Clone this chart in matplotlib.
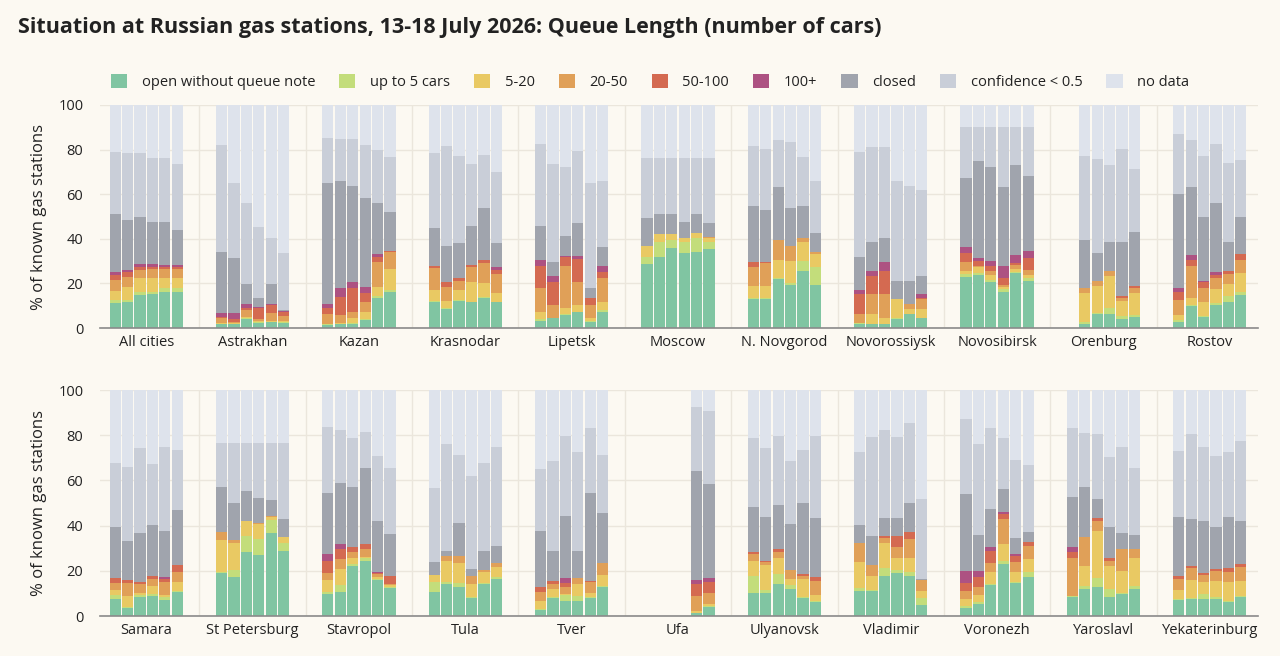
import numpy as np
import matplotlib
matplotlib.use("Agg")
import matplotlib.pyplot as plt
from matplotlib.patches import Patch

nan = np.nan

# cities, in panel order (first 11 = top row, last 11 = bottom row)
cities = ["All cities", "Astrakhan", "Kazan", "Krasnodar", "Lipetsk", "Moscow",
          "N. Novgorod", "Novorossiysk", "Novosibirsk", "Orenburg", "Rostov",
          "Samara", "St Petersburg", "Stavropol", "Tula", "Tver", "Ufa",
          "Ulyanovsk", "Vladimir", "Voronezh", "Yaroslavl", "Yekaterinburg"]
days = ["13 Jul", "14 Jul", "15 Jul", "16 Jul", "17 Jul", "18 Jul"]

categories = ["open without queue note", "up to 5 cars", "5-20", "20-50",
              "50-100", "100+", "closed", "confidence < 0.5", "no data"]

# % of known gas stations, one row per city, one value per day
open_no_queue = [
    [11.1, 11.5, 14.8, 15.1, 16.3, 16.3],
    [1.6, 1.6, 4.0, 2.4, 2.5, 2.4],
    [1.3, 1.6, 1.9, 3.6, 13.3, 16.3],
    [11.8, 8.4, 12.1, 11.5, 13.6, 11.5],
    [3.1, 4.3, 5.8, 7.0, 2.8, 7.0],
    [28.7, 31.7, 35.7, 33.5, 34.2, 35.4],
    [13.0, 13.0, 21.8, 19.3, 25.7, 19.3],
    [1.8, 1.6, 1.6, 4.0, 6.1, 4.3],
    [23.0, 23.8, 20.5, 16.3, 24.5, 21.1],
    [nan, 1.8, 6.3, 6.3, 4.0, 5.1],
    [2.8, 10.0, 5.1, 10.3, 11.8, 14.8],
    [7.5, 3.4, 8.3, 9.0, 7.1, 10.8],
    [18.9, 17.1, 28.5, 27.0, 36.9, 28.8],
    [9.7, 10.8, 22.3, 24.3, 15.9, 12.2],
    [10.5, 14.0, 12.7, 8.1, 14.0, 16.2],
    [2.7, 7.8, 6.8, 6.8, 7.8, 13.0],
    [nan, nan, nan, nan, 1.2, 4.1],
    [10.0, 10.0, 14.2, 11.8, 7.8, 6.3],
    [11.2, 11.2, 17.7, 19.2, 17.7, 4.9],
    [3.4, 5.2, 13.7, 23.0, 14.7, 17.4],
    [8.3, 11.8, 12.7, 8.6, 9.6, 11.8],
    [7.1, 7.4, 7.7, 7.4, 6.3, 8.6],
]
up_to_5 = [
    [1.5, 1.1, 1.5, 1.2, 1.5, 1.5],
    [0.3, 0.3, 0.6, 0.3, 0.3, 0.3],
    [0.3, 0.3, 0.3, 0.4, 1.0, 0.7],
    [0.3, 0.4, 0.3, 0.3, 0.4, 0.3],
    [0.9, 0.0, 0.3, 0.3, 0.3, 1.1],
    [3.3, 7.0, 3.8, 4.9, 6.3, 3.3],
    [0.6, 0.6, 0.5, 0.7, 4.5, 8.2],
    [0.3, 0.3, 0.3, 0.6, 0.4, 0.3],
    [1.1, 0.7, 1.0, 1.2, 0.8, 1.2],
    [nan, 1.0, 0.3, 2.5, 1.5, 0.7],
    [0.8, 0.3, 0.4, 0.8, 2.7, 1.2],
    [1.8, 0.7, 1.0, 0.6, 1.5, 0.4],
    [0.7, 3.3, 6.9, 6.9, 5.6, 3.6],
    [0.8, 2.9, 0.6, 1.2, 0.3, 0.5],
    [4.7, 1.2, 1.8, 0.5, 0.5, 1.2],
    [0.2, 0.8, 2.5, 2.0, 0.5, 0.3],
    [nan, nan, nan, nan, 0.3, 0.3],
    [7.7, 1.5, 4.4, 1.9, 0.8, 0.5],
    [1.0, 0.3, 3.4, 1.2, 1.9, 2.9],
    [1.2, 1.1, 0.5, 1.5, 0.5, 2.2],
    [0.7, 1.6, 4.0, 3.2, 0.4, 1.5],
    [0.3, 0.4, 1.9, 0.9, 0.5, 0.2],
]
cars_5_20 = [
    [4.0, 5.9, 6.0, 6.0, 4.5, 4.5],
    [0.3, 0.3, 0.5, 0.4, 0.3, 0.4],
    [0.3, 0.3, 2.4, 3.0, 4.2, 9.5],
    [4.9, 3.3, 4.6, 8.7, 6.0, 3.7],
    [3.3, 0.3, 2.7, 3.0, 1.2, 3.7],
    [4.9, 3.3, 2.5, 1.8, 2.0, 1.8],
    [5.4, 5.4, 8.2, 10.0, 8.2, 5.5],
    [0.3, 4.4, 2.7, 8.3, 2.0, 3.8],
    [1.5, 3.0, 2.3, 1.0, 1.2, 1.5],
    [nan, 12.7, 12.4, 14.7, 6.6, 9.7],
    [2.2, 3.0, 6.3, 6.2, 5.1, 8.5],
    [2.2, 4.7, 0.7, 3.7, 0.7, 4.0],
    [14.0, 12.0, 6.8, 6.8, 1.2, 2.7],
    [5.4, 6.9, 2.6, 0.5, 1.2, 1.0],
    [2.9, 9.1, 8.8, 5.4, 5.1, 4.4],
    [3.7, 3.2, 0.4, 5.4, 2.0, 4.8],
    [nan, nan, nan, nan, 0.9, 0.8],
    [6.6, 11.1, 6.9, 2.7, 7.6, 2.5],
    [11.8, 6.2, 11.3, 5.4, 6.2, 3.4],
    [2.9, 3.0, 5.4, 7.4, 4.4, 5.5],
    [0.0, 8.7, 21.1, 10.5, 9.9, 12.2],
    [4.1, 8.1, 5.6, 7.2, 8.4, 6.7],
]
cars_20_50 = [
    [4.9, 4.5, 3.7, 4.2, 4.2, 4.2],
    [2.1, 0.6, 3.0, 0.9, 3.5, 2.4],
    [4.2, 3.6, 2.4, 4.5, 11.2, 7.4],
    [9.8, 6.4, 4.1, 7.0, 9.0, 8.6],
    [10.5, 5.7, 19.2, 10.2, 6.0, 10.5],
    [0.0, 0.0, 0.0, 0.0, 0.0, 0.5],
    [8.5, 10.0, 9.0, 6.9, 1.8, 1.2],
    [3.9, 8.8, 10.5, 0.0, 2.1, 4.6],
    [4.1, 0.3, 1.8, 0.8, 1.8, 2.2],
    [nan, 2.6, 2.1, 2.1, 1.2, 2.3],
    [6.8, 14.7, 6.3, 5.3, 4.5, 6.0],
    [3.2, 5.9, 4.2, 3.1, 5.9, 4.4],
    [3.7, 1.2, 0.0, 0.6, 0.5, 0.0],
    [3.0, 4.6, 3.0, 3.6, 1.0, 0.5],
    [0.0, 2.2, 3.2, 3.7, 0.8, 1.5],
    [3.9, 2.4, 3.3, 2.5, 4.9, 5.5],
    [nan, nan, nan, nan, 6.4, 5.1],
    [3.1, 1.4, 3.0, 4.0, 1.5, 6.2],
    [8.4, 4.9, 2.0, 4.9, 8.3, 4.7],
    [3.7, 3.7, 4.0, 10.9, 4.4, 6.0],
    [16.5, 12.7, 4.4, 2.0, 9.6, 4.1],
    [4.9, 5.2, 2.9, 4.6, 4.4, 6.3],
]
cars_50_100 = [
    [2.1, 2.3, 1.5, 1.0, 1.0, 1.0],
    [0.8, 1.2, 1.0, 4.8, 3.7, 1.5],
    [2.7, 8.2, 10.8, 4.0, 2.3, 0.8],
    [1.0, 2.0, 1.2, 0.8, 1.5, 1.9],
    [10.2, 10.5, 4.0, 10.4, 3.3, 3.0],
    [0.0, 0.0, 0.0, 0.0, 0.0, 0.0],
    [2.2, 0.4, 0.0, 0.0, 0.0, 0.0],
    [8.8, 8.2, 10.6, 0.0, 0.0, 0.6],
    [4.1, 2.2, 2.2, 3.0, 1.0, 5.5],
    [nan, 0.0, 0.0, 0.0, 1.0, 1.2],
    [3.7, 2.5, 2.7, 1.2, 1.6, 2.5],
    [2.0, 1.2, 1.0, 1.3, 1.0, 3.0],
    [0.0, 0.0, 0.0, 0.0, 0.0, 0.0],
    [5.6, 4.3, 1.9, 2.1, 0.8, 3.5],
    [0.0, 0.0, 0.0, 0.0, 0.0, 0.0],
    [2.5, 1.4, 1.5, 0.0, 0.4, 0.0],
    [nan, nan, nan, nan, 5.4, 4.9],
    [1.1, 0.5, 1.0, 0.0, 0.7, 1.9],
    [0.0, 0.0, 1.1, 4.7, 2.9, 0.0],
    [3.3, 4.4, 5.2, 2.3, 2.5, 1.5],
    [3.0, 0.0, 1.3, 1.2, 0.0, 0.0],
    [1.3, 1.0, 1.1, 0.5, 1.5, 1.1],
]
cars_100_plus = [
    [1.5, 0.7, 1.0, 1.0, 0.7, 0.7],
    [1.5, 2.6, 1.5, 0.5, 0.3, 0.6],
    [1.8, 4.1, 2.7, 3.0, 1.0, 0.0],
    [0.0, 0.0, 0.0, 0.0, 0.0, 1.2],
    [2.5, 2.7, 0.3, 1.5, 0.0, 2.7],
    [0.0, 0.0, 0.0, 0.0, 0.0, 0.0],
    [0.0, 0.0, 0.0, 0.0, 0.0, 0.0],
    [1.9, 2.3, 4.0, 0.0, 0.0, 1.5],
    [2.7, 1.2, 2.4, 5.7, 3.4, 3.2],
    [nan, 0.0, 0.0, 0.0, 0.0, 0.0],
    [1.8, 2.2, 0.3, 1.5, 0.0, 0.0],
    [0.0, 0.0, 0.0, 0.0, 1.2, 0.0],
    [0.0, 0.0, 0.0, 0.0, 0.0, 0.0],
    [2.9, 2.2, 0.0, 0.0, 0.4, 0.0],
    [0.0, 0.0, 0.0, 0.0, 0.0, 0.0],
    [0.0, 0.0, 2.2, 0.0, 0.0, 0.0],
    [nan, nan, nan, nan, 1.7, 1.8],
    [0.0, 0.0, 0.0, 0.0, 0.0, 0.0],
    [0.0, 0.0, 0.0, 0.0, 0.0, 0.0],
    [5.6, 2.5, 1.9, 1.1, 0.9, 0.0],
    [2.2, 0.0, 0.0, 0.0, 0.0, 0.0],
    [0.0, 0.0, 0.0, 0.0, 0.0, 0.0],
]
closed = [
    [25.9, 22.4, 21.4, 18.9, 19.2, 15.7],
    [27.3, 24.6, 9.0, 4.0, 9.0, 0.5],
    [54.3, 47.8, 43.3, 39.6, 23.2, 17.2],
    [16.9, 16.4, 15.7, 17.4, 23.2, 10.8],
    [15.4, 6.2, 9.0, 14.8, 4.2, 8.5],
    [12.6, 9.0, 9.3, 7.2, 8.5, 5.9],
    [25.2, 23.5, 23.7, 16.8, 14.7, 8.6],
    [14.7, 12.8, 10.8, 8.2, 10.5, 8.2],
    [30.6, 43.7, 42.1, 35.1, 40.4, 33.5],
    [nan, 21.4, 12.4, 13.1, 24.4, 24.2],
    [41.8, 30.7, 28.8, 30.6, 12.7, 16.9],
    [22.8, 17.3, 21.7, 22.6, 20.4, 24.3],
    [19.6, 16.3, 13.1, 10.8, 7.1, 7.7],
    [27.2, 27.3, 26.5, 33.9, 22.6, 18.6],
    [5.9, 2.4, 14.8, 2.9, 8.5, 7.8],
    [24.6, 13.2, 27.5, 12.1, 38.7, 21.8],
    [nan, nan, nan, nan, 48.4, 41.4],
    [19.6, 19.5, 19.6, 20.3, 31.5, 25.8],
    [7.9, 12.9, 8.0, 8.1, 12.9, 0.3],
    [33.7, 15.9, 16.5, 9.8, 7.0, 4.7],
    [21.8, 22.1, 8.1, 13.7, 7.4, 6.2],
    [26.3, 20.8, 23.0, 18.9, 22.9, 19.3],
]
low_confidence = [
    [28.0, 30.2, 28.7, 28.7, 28.7, 29.5],
    [48.1, 34.0, 36.3, 32.1, 20.6, 25.7],
    [20.1, 18.7, 20.8, 23.9, 23.6, 24.9],
    [33.6, 44.9, 39.3, 27.8, 23.9, 32.1],
    [36.5, 43.8, 31.0, 32.2, 47.1, 29.4],
    [26.9, 25.4, 25.1, 29.0, 25.4, 29.5],
    [26.9, 27.4, 21.0, 29.6, 21.6, 23.1],
    [47.1, 42.6, 40.5, 44.8, 42.7, 38.6],
    [23.2, 15.4, 18.0, 27.2, 17.2, 22.1],
    [nan, 37.8, 42.3, 34.4, 41.6, 28.1],
    [26.9, 20.9, 27.2, 26.5, 35.4, 25.4],
    [28.3, 32.9, 37.3, 26.8, 37.1, 26.6],
    [19.5, 26.5, 21.1, 24.3, 25.1, 33.6],
    [29.2, 23.3, 21.7, 16.0, 28.6, 29.3],
    [32.5, 47.1, 29.9, 41.3, 38.9, 43.8],
    [27.3, 39.9, 35.4, 43.9, 29.0, 25.8],
    [nan, nan, nan, nan, 28.0, 32.3],
    [30.8, 30.5, 30.7, 27.9, 23.6, 36.6],
    [32.4, 43.6, 38.8, 35.9, 35.6, 35.4],
    [33.2, 40.3, 36.1, 22.6, 34.6, 29.5],
    [30.8, 24.2, 28.8, 31.0, 38.0, 29.5],
    [29.0, 37.5, 32.4, 31.3, 28.7, 35.4],
]
no_data = [
    [21.0, 21.4, 21.4, 23.9, 23.9, 26.6],
    [18.0, 34.8, 44.1, 54.6, 59.8, 66.2],
    [15.0, 15.4, 15.4, 18.0, 20.2, 23.2],
    [21.7, 18.2, 22.7, 26.5, 22.4, 29.9],
    [17.6, 26.5, 27.7, 20.6, 35.1, 34.1],
    [23.6, 23.6, 23.6, 23.6, 23.6, 23.6],
    [18.2, 19.7, 15.8, 16.7, 23.5, 34.1],
    [21.2, 19.0, 19.0, 34.1, 36.2, 38.1],
    [9.7, 9.7, 9.7, 9.7, 9.7, 9.7],
    [nan, 22.7, 24.2, 26.9, 19.7, 28.7],
    [13.2, 15.7, 22.9, 17.6, 26.2, 24.7],
    [32.2, 33.9, 25.8, 32.9, 25.1, 26.5],
    [23.6, 23.6, 23.6, 23.6, 23.6, 23.6],
    [16.2, 17.7, 21.4, 18.4, 29.2, 34.4],
    [43.5, 24.0, 28.8, 38.1, 32.2, 25.1],
    [35.1, 31.3, 20.4, 27.3, 16.7, 28.8],
    [nan, nan, nan, nan, 7.7, 9.3],
    [21.1, 25.5, 20.2, 31.4, 26.5, 20.2],
    [27.3, 20.9, 17.7, 20.6, 14.5, 48.4],
    [13.0, 23.9, 16.7, 21.4, 31.0, 33.2],
    [16.7, 18.9, 19.6, 29.8, 25.1, 34.7],
    [27.0, 19.6, 25.4, 29.2, 27.3, 22.4],
]

series = [open_no_queue, up_to_5, cars_5_20, cars_20_50, cars_50_100,
          cars_100_plus, closed, low_confidence, no_data]
colors = ["#80c5a2", "#c3dd7b", "#e9c963", "#e0a058", "#d46a51", "#ad5282",
          "#a0a4ad", "#c9ced8", "#dee3ec"]

BG = "#fcf9f2"
GRID = "#ebe6dc"
TEXT = "#222222"
SPACING = 8.56

plt.rcParams['font.family'] = ['Open Sans', 'DejaVu Sans']

fig = plt.figure(figsize=(12.8, 6.56), dpi=100, facecolor=BG)

fig.text(0.014, 1 - 28 / 656, "Situation at Russian gas stations, 13-18 July 2026: "
         "Queue Length (number of cars)", fontsize=15.5, fontweight='bold',
         color=TEXT, va='center', ha='left')

ax_top = fig.add_axes([100 / 1280, 1 - 328 / 656, 1158 / 1280, 223 / 656])
ax_bot = fig.add_axes([100 / 1280, 1 - 616 / 656, 1158 / 1280, 226 / 656])


def draw_row(ax, first):
    n = 11
    for i in range(n):
        c = first + i
        x = i * SPACING + np.arange(6) - 2.5
        bottom = np.zeros(6)
        for k, s in enumerate(series):
            vals = np.array(s[c], dtype=float)
            ok = ~np.isnan(vals)
            ax.bar(x[ok], vals[ok], bottom=bottom[ok], width=0.9,
                   color=colors[k], linewidth=0, zorder=2)
            bottom[ok] += vals[ok]
    for i in range(n - 1):
        ax.axvline(i * SPACING + SPACING / 2, color=GRID, lw=1, zorder=0)
    ax.set_facecolor(BG)
    ax.set_xlim(-3.72, (n - 1) * SPACING + 3.88)
    ax.set_ylim(0, 100)
    ax.set_yticks([0, 20, 40, 60, 80, 100])
    ax.yaxis.grid(True, color=GRID, lw=1, zorder=0)
    ax.set_axisbelow(True)
    ax.set_xticks([i * SPACING for i in range(n)])
    ax.set_xticklabels(cities[first:first + n])
    ax.tick_params(axis='both', length=0, labelsize=10.5, colors=TEXT)
    ax.tick_params(axis='x', pad=5)
    ax.tick_params(axis='y', pad=12)
    for side in ['top', 'right', 'left']:
        ax.spines[side].set_visible(False)
    ax.spines['bottom'].set_color('#8a8a8a')
    ax.spines['bottom'].set_linewidth(1.2)
    ax.set_ylabel("% of known gas stations", fontsize=12, color=TEXT, labelpad=8)


draw_row(ax_top, 0)
draw_row(ax_bot, 11)

handles = [Patch(facecolor=col, edgecolor='none') for col in colors]
fig.legend(handles, categories, loc='center', ncol=9,
           bbox_to_anchor=(0.508, 1 - 82 / 656), frameon=False,
           fontsize=10.5, handlelength=1.1, handleheight=1.1,
           handletextpad=1.0, columnspacing=1.65, labelcolor=TEXT)

fig.savefig("out.png", dpi=100, facecolor=BG)
